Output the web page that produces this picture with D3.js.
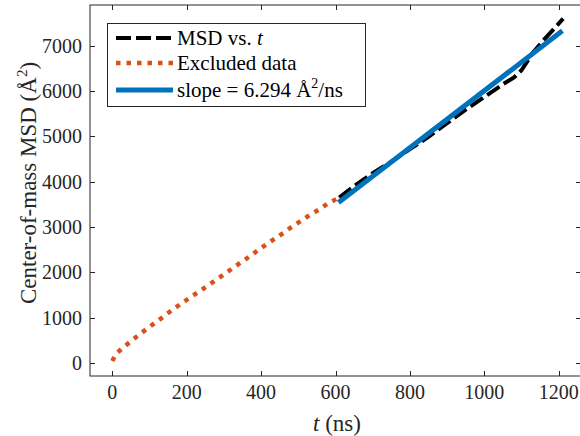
<!DOCTYPE html>
<html>
<head>
<meta charset="utf-8">
<script src="https://cdn.jsdelivr.net/npm/d3@7"></script>
<style>
  body { margin: 0; background: #fff; }
  svg { display: block; font-family: "Liberation Serif", "DejaVu Serif", serif; }
</style>
</head>
<body>
<svg id="chart" width="580" height="436"></svg>
<script>
"use strict";

// excluded early part of the curve (orange, dotted)
var excludedT = [0, 10, 24, 46, 69, 91, 114, 136, 158, 182, 205, 229, 252, 275, 298, 322, 346, 369, 392, 415, 438, 462, 485, 508, 532, 555, 578, 610];
var excludedMsd = [40, 200, 300, 450, 600, 740, 880, 1010, 1150, 1290, 1420, 1550, 1680, 1810, 1940, 2080, 2220, 2350, 2490, 2620, 2750, 2880, 3020, 3140, 3270, 3380, 3510, 3650];

// fitted part of the curve (black, dashed)
var msdT = [610, 650, 700, 750, 800, 850, 900, 950, 1000, 1050, 1080, 1100, 1130, 1160, 1190, 1212];
var msdVal = [3650, 3900, 4190, 4440, 4720, 4990, 5290, 5590, 5870, 6150, 6300, 6460, 6840, 7130, 7400, 7600];

// linear fit (blue), endpoints
var fitT = [608, 1210];
var fitVal = [3540, 7330];

var xTicks = [0, 200, 400, 600, 800, 1000, 1200];
var yTicks = [0, 1000, 2000, 3000, 4000, 5000, 6000, 7000];

var pLeft = 90, pTop = 5, pRight = 581, pBottom = 376;
var axisColor = "#262626";

var svg = d3.select("#chart");

var x = d3.scaleLinear().domain([-60, 1260]).range([pLeft, pRight]);
var y = d3.scaleLinear().domain([-290, 7900]).range([pBottom, pTop]);

var line = d3.line()
  .x((d) => x(d[0]))
  .y((d) => y(d[1]));

var plot = svg.append("g");
plot.append("clipPath").attr("id", "clip")
  .append("rect").attr("x", pLeft).attr("y", pTop)
  .attr("width", pRight - pLeft).attr("height", pBottom - pTop);

var lines = plot.append("g").attr("clip-path", "url(#clip)");

lines.append("path")
  .datum(d3.zip(excludedT, excludedMsd))
  .attr("d", line)
  .attr("fill", "none")
  .attr("stroke", "#D95319")
  .attr("stroke-width", 4.5)
  .attr("stroke-dasharray", "4.5,6");

lines.append("path")
  .datum(d3.zip(msdT, msdVal))
  .attr("d", line)
  .attr("fill", "none")
  .attr("stroke", "#000")
  .attr("stroke-width", 4)
  .attr("stroke-dasharray", "15,5");

lines.append("path")
  .datum(d3.zip(fitT, fitVal))
  .attr("d", line)
  .attr("fill", "none")
  .attr("stroke", "#0072BD")
  .attr("stroke-width", 5);

// axes box with inward ticks on all sides
var tickLen = 5;
var axes = svg.append("g").attr("font-size", 20).attr("fill", axisColor);

axes.append("rect")
  .attr("x", pLeft).attr("y", pTop)
  .attr("width", pRight - pLeft).attr("height", pBottom - pTop)
  .attr("fill", "none").attr("stroke", axisColor).attr("stroke-width", 1);

xTicks.forEach((t) => {
  var px = Math.round(x(t)) + 0.5;
  axes.append("line").attr("x1", px).attr("x2", px)
    .attr("y1", pBottom).attr("y2", pBottom - tickLen).attr("stroke", axisColor);
  axes.append("line").attr("x1", px).attr("x2", px)
    .attr("y1", pTop).attr("y2", pTop + tickLen).attr("stroke", axisColor);
  axes.append("text").attr("x", x(t)).attr("y", 399)
    .attr("text-anchor", "middle").text(t);
});

yTicks.forEach((v) => {
  var py = Math.round(y(v)) + 0.5;
  axes.append("line").attr("x1", pLeft).attr("x2", pLeft + tickLen)
    .attr("y1", py).attr("y2", py).attr("stroke", axisColor);
  axes.append("line").attr("x1", pRight).attr("x2", pRight - tickLen)
    .attr("y1", py).attr("y2", py).attr("stroke", axisColor);
  axes.append("text").attr("x", 82).attr("y", y(v) + 7)
    .attr("text-anchor", "end").text(v);
});

// axis labels
var xl = axes.append("text").attr("x", 337).attr("y", 431)
  .attr("text-anchor", "middle").attr("font-size", 23);
xl.append("tspan").attr("font-style", "italic").text("t");
xl.append("tspan").text(" (ns)");

var yl = axes.append("text")
  .attr("transform", "translate(36,183) rotate(-90)")
  .attr("text-anchor", "middle").attr("font-size", 23);
yl.append("tspan").text("Center-of-mass MSD (Å");
yl.append("tspan").attr("dy", -9).attr("font-size", 15).text("2");
yl.append("tspan").attr("dy", 9).text(")");

// legend
var lg = svg.append("g").attr("font-size", 21).attr("fill", "#000");
lg.append("rect").attr("x", 107.5).attr("y", 23.5).attr("width", 258).attr("height", 83)
  .attr("fill", "#fff").attr("stroke", axisColor).attr("stroke-width", 1);

var rows = [
  { y: 38, color: "#000", w: 4, dash: "15,5" },
  { y: 63, color: "#D95319", w: 4.5, dash: "4.5,6" },
  { y: 90, color: "#0072BD", w: 5, dash: null }
];
rows.forEach((r) => {
  lg.append("line").attr("x1", 116).attr("x2", 173)
    .attr("y1", r.y).attr("y2", r.y)
    .attr("stroke", r.color).attr("stroke-width", r.w)
    .attr("stroke-dasharray", r.dash);
});

var t1 = lg.append("text").attr("x", 177).attr("y", rows[0].y + 7);
t1.append("tspan").text("MSD vs. ");
t1.append("tspan").attr("font-style", "italic").text("t");

lg.append("text").attr("x", 177).attr("y", rows[1].y + 7).text("Excluded data");

var t3 = lg.append("text").attr("x", 177).attr("y", rows[2].y + 7);
t3.append("tspan").text("slope = 6.294 Å");
t3.append("tspan").attr("dy", -9).attr("font-size", 14).text("2");
t3.append("tspan").attr("dy", 9).text("/ns");
</script>
</body>
</html>
